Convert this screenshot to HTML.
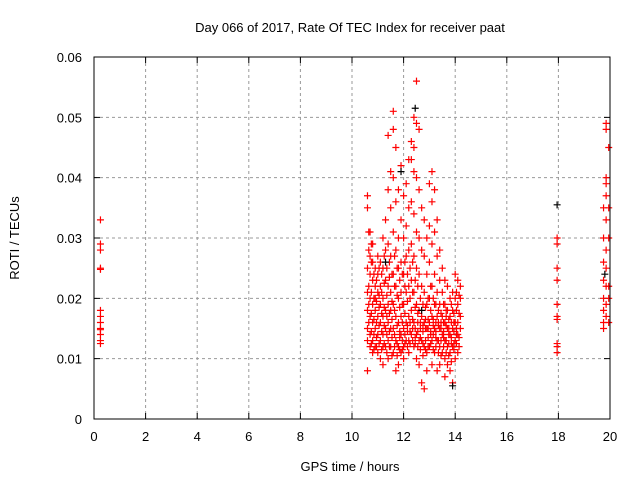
<!DOCTYPE html>
<html><head><meta charset="utf-8"><style>
body{margin:0;background:#fff}
svg{display:block;font-family:"Liberation Sans",sans-serif;font-size:13px}
</style></head><body>
<svg id="chart" width="640" height="480">
<text x="350" y="32" text-anchor="middle">Day 066 of 2017, Rate Of TEC Index for receiver paat</text>
<text x="350" y="471" text-anchor="middle">GPS time / hours</text>
<text transform="translate(19,238) rotate(-90)" text-anchor="middle">ROTI / TECUs</text>
<g id="grid"></g><g id="ticks"></g><g id="pts"></g>
<rect x="94" y="57" width="516" height="362" fill="none" stroke="#000"/>
</svg>
<script>
const xTicks=[0,2,4,6,8,10,12,14,16,18,20];
const yTicks=[0,0.01,0.02,0.03,0.04,0.05,0.06];
const yTickLabels=["0","0.01","0.02","0.03","0.04","0.05","0.06"];
const redGroups=[
[0.25,[.033,.029,.028,.025,.0248,.018,.017,.016,.015,.0148,.014,.013,.0125]],
[10.6,[.025,.021,.018,.015,.013,.035,.037,.008]],
[10.65,[.031,.028,.022,.019,.016]],
[10.7,[.031,.027,.024,.02,.017,.014,.012]],
[10.8,[.029,.023,.019,.016,.013,.011,.026]],
[10.9,[.025,.022,.018,.015,.012,.02]],
[11.0,[.027,.021,.017,.014,.011,.024]],
[11.1,[.026,.022,.019,.016,.013,.010]],
[11.2,[.03,.025,.02,.017,.014,.012,.009]],
[11.3,[.033,.028,.023,.018,.015,.012]],
[11.4,[.047,.038,.029,.022,.019,.016,.013,.01]],
[11.5,[.041,.035,.027,.021,.018,.015,.012]],
[11.6,[.051,.048,.04,.031,.024,.019,.015,.011]],
[11.7,[.045,.036,.028,.022,.017,.013,.008]],
[11.8,[.038,.03,.025,.02,.016,.012,.009]],
[11.9,[.042,.033,.026,.021,.017,.014,.011]],
[12.0,[.037,.03,.024,.019,.015,.012,.01]],
[12.1,[.039,.032,.027,.021,.016,.013]],
[12.2,[.043,.035,.028,.022,.017,.013,.011]],
[12.3,[.046,.043,.036,.029,.023,.018,.014]],
[12.4,[.05,.045,.041,.034,.027,.021,.016,.012]],
[12.5,[.056,.049,.04,.031,.025,.019,.014,.01]],
[12.6,[.048,.038,.03,.024,.018,.013,.009]],
[12.7,[.035,.028,.022,.017,.013,.006]],
[12.8,[.033,.027,.021,.016,.012,.005]],
[12.9,[.03,.024,.019,.015,.011,.008]],
[13.0,[.039,.032,.026,.02,.016,.012]],
[13.1,[.041,.036,.029,.022,.017,.013,.009]],
[13.2,[.038,.031,.024,.019,.015,.011]],
[13.3,[.033,.027,.021,.017,.013,.008]],
[13.4,[.028,.023,.019,.015,.012,.009]],
[13.5,[.025,.021,.017,.014,.011]],
[13.6,[.023,.019,.016,.013,.01,.007]],
[13.7,[.022,.018,.015,.012,.009]],
[13.8,[.02,.017,.014,.011,.008]],
[13.9,[.021,.018,.015,.012,.006]],
[14.0,[.024,.02,.016,.013,.01]],
[14.1,[.023,.019,.016,.014,.011]],
[14.2,[.022,.02,.017,.015]],
[10.75,[.026,.021,.0175,.0145,.0125,.029]],
[10.85,[.024,.02,.0165,.014,.0115]],
[10.95,[.023,.0195,.016,.0135,.012]],
[11.05,[.025,.0205,.0185,.0155,.0125]],
[11.15,[.024,.021,.0175,.0145,.0115]],
[11.25,[.027,.0225,.0185,.0155,.0125]],
[11.35,[.025,.0205,.017,.014,.011]],
[11.45,[.026,.0235,.0175,.0145,.012]],
[11.55,[.024,.0195,.0165,.0135,.0105]],
[11.65,[.027,.022,.018,.014,.012]],
[11.75,[.025,.0205,.0155,.0125,.0105]],
[11.85,[.023,.0185,.0145,.0115,.0135]],
[11.95,[.024,.019,.016,.013,.0115]],
[12.05,[.026,.022,.0175,.014,.0125]],
[12.15,[.024,.0195,.0155,.012,.0145]],
[12.25,[.025,.02,.016,.0125,.0145]],
[12.35,[.026,.021,.0165,.013,.015]],
[12.45,[.023,.0185,.015,.0125,.0135]],
[12.55,[.022,.0175,.0145,.012,.016]],
[12.65,[.02,.016,.0135,.0115,.015]],
[12.75,[.019,.0155,.0125,.0105,.0145]],
[12.85,[.0185,.015,.013,.0115,.0165]],
[12.95,[.02,.0165,.0135,.012,.015]],
[13.05,[.022,.018,.0145,.0125,.014]],
[13.15,[.02,.0165,.014,.0115,.0155]],
[13.25,[.019,.016,.0135,.012,.0145]],
[13.35,[.018,.0155,.013,.011,.016]],
[13.45,[.0175,.015,.013,.0105,.016]],
[13.55,[.019,.016,.0135,.012,.0145]],
[13.65,[.018,.0155,.013,.011,.017]],
[13.75,[.0165,.014,.0125,.0105,.015]],
[13.85,[.019,.016,.0135,.0125,.0095]],
[13.95,[.0175,.0145,.0125,.0115,.016]],
[14.05,[.021,.018,.015,.0125,.014]],
[14.15,[.0205,.0175,.0135,.012]],
[17.95,[.030,.029,.025,.023,.019,.017,.0165,.0125,.012,.011]],
[19.75,[.035,.03,.026,.023,.02,.018,.016,.015]],
[19.85,[.049,.048,.04,.039,.037,.033,.028,.025,.022,.019,.017]],
[19.95,[.045,.035,.03,.022,.02,.016]]
];
const blackX=[17.95,12.45,11.3,12.7,13.9,11.9,19.8];
const blackY=[.0355,.0515,.026,.018,.0055,.041,.024];
const X0=94,X1=610,Y0=419,Y1=57;
const sx=v=>X0+(v-0)/(20-0)*(X1-X0);
const sy=v=>Y0-(v-0)/(0.06-0)*(Y0-Y1);
const NS="http://www.w3.org/2000/svg";
const g=document.getElementById('grid'),t=document.getElementById('ticks'),p=document.getElementById('pts');
function mk(tag,a,par){const e=document.createElementNS(NS,tag);for(const k in a)e.setAttribute(k,a[k]);par.appendChild(e);return e;}
xTicks.forEach(v=>{
 const x=sx(v);
 if(v>0&&v<20){const l=mk('line',{x1:x,x2:x,y1:Y1,y2:Y0,stroke:'#999','stroke-dasharray':'3,3'},g);
 
 }
 const k=mk('path',{d:`M${x},${Y0}v-6M${x},${Y1}v6`,stroke:'#000'},t);
 
 
 const tx=mk('text',{x:x,y:Y0+22,'text-anchor':'middle'},t);tx.textContent=String(v);
 
 
});
yTicks.forEach((v,i)=>{
 const y=sy(v);
 if(i>0&&i<yTicks.length-1){const l=mk('line',{x1:X0,x2:X1,y1:y,y2:y,stroke:'#999','stroke-dasharray':'3,3'},g);
 
 }
 const k=mk('path',{d:`M${X0},${y}h6M${X1},${y}h-6`,stroke:'#000'},t);
 
 
 const tx=mk('text',{x:X0-12,y:y+5,'text-anchor':'end'},t);tx.textContent=yTickLabels[i];
 
 
});
function plus(x,y,c){const e=mk('path',{d:`M${sx(x)-3.5},${sy(y)}h7M${sx(x)},${sy(y)-3.5}v7`,stroke:c,'stroke-width':1.2},p);return e;}
redGroups.forEach(gr=>gr[1].forEach(y=>{
 const e=plus(gr[0],y,'#f00');
 
 
}));
blackX.forEach((x,i)=>{
 const e=plus(x,blackY[i],'#000');
 
 
});
</script>
</body></html>
